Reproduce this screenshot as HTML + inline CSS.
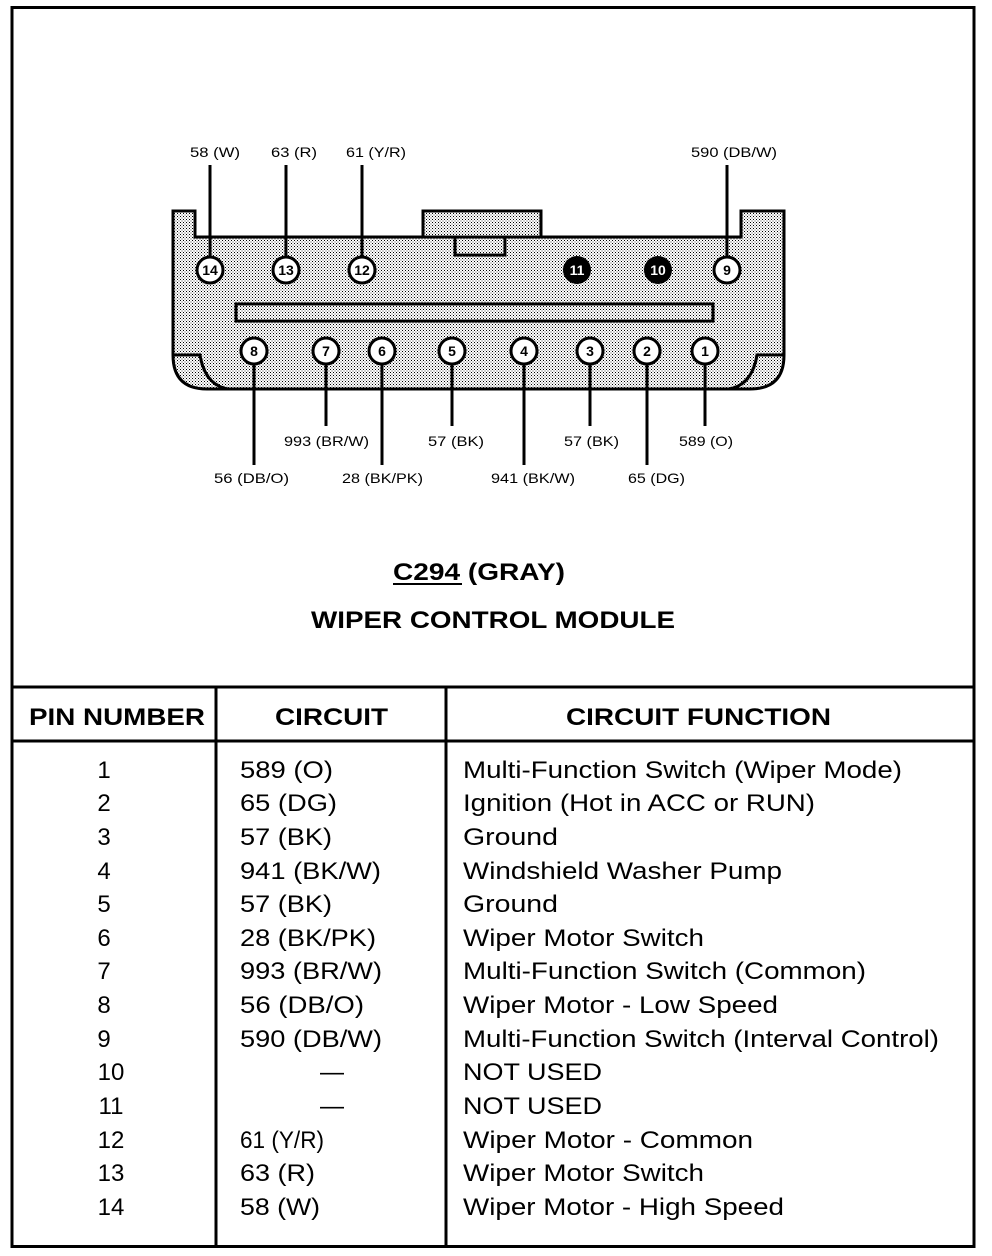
<!DOCTYPE html>
<html><head><meta charset="utf-8"><style>
html,body{margin:0;padding:0;background:#fff;}
svg{display:block;}
text{font-family:"Liberation Sans",Arial,sans-serif;fill:#000;}
</style></head><body>
<svg width="992" height="1256" viewBox="0 0 992 1256" xmlns="http://www.w3.org/2000/svg">
<defs>
<pattern id="dots" width="3" height="3" patternUnits="userSpaceOnUse">
<rect width="3" height="3" fill="#fff"/>
<rect x="0" y="0" width="1" height="1" fill="#000"/>
<rect x="1.5" y="1.5" width="1" height="1" fill="#444"/>
</pattern>
</defs>
<rect x="12" y="7.5" width="962" height="1239" fill="none" stroke="#000" stroke-width="3"/>
<path d="M173,211 L195,211 L195,237 L741,237 L741,211 L784,211 L784,355 Q784,389 750,389 L207,389 Q173,389 173,355 Z" fill="url(#dots)" stroke="#000" stroke-width="3"/>
<path d="M173,355 L200,355 Q205,385 228,389" fill="none" stroke="#000" stroke-width="3"/>
<path d="M784,355 L757,355 Q752,385 729,389" fill="none" stroke="#000" stroke-width="3"/>
<rect x="423" y="211" width="118" height="26" fill="url(#dots)" stroke="#000" stroke-width="3"/>
<rect x="455" y="237" width="50" height="18" fill="url(#dots)" stroke="#000" stroke-width="3"/>
<rect x="236" y="304" width="477" height="17" fill="url(#dots)" stroke="#000" stroke-width="3"/>
<g stroke="#000" stroke-width="3">
<line x1="210" y1="165" x2="210" y2="257"/>
<line x1="286" y1="165" x2="286" y2="257"/>
<line x1="362" y1="165" x2="362" y2="257"/>
<line x1="727" y1="165" x2="727" y2="257"/>
<line x1="254" y1="364" x2="254" y2="465"/>
<line x1="326" y1="364" x2="326" y2="426"/>
<line x1="382" y1="364" x2="382" y2="465"/>
<line x1="452" y1="364" x2="452" y2="426"/>
<line x1="524" y1="364" x2="524" y2="465"/>
<line x1="590" y1="364" x2="590" y2="426"/>
<line x1="647" y1="364" x2="647" y2="465"/>
<line x1="705" y1="364" x2="705" y2="426"/>
</g>
<g stroke="#000" stroke-width="3" fill="#fff">
<circle cx="210" cy="270" r="13"/><circle cx="286" cy="270" r="13"/><circle cx="362" cy="270" r="13"/>
<circle cx="727" cy="270" r="13"/>
<circle cx="254" cy="351" r="13"/><circle cx="326" cy="351" r="13"/><circle cx="382" cy="351" r="13"/>
<circle cx="452" cy="351" r="13"/><circle cx="524" cy="351" r="13"/><circle cx="590" cy="351" r="13"/>
<circle cx="647" cy="351" r="13"/><circle cx="705" cy="351" r="13"/>
</g>
<circle cx="577" cy="270" r="14" fill="#000"/><circle cx="658" cy="270" r="14" fill="#000"/>
<g font-size="14" font-weight="bold" text-anchor="middle">
<text x="210" y="275">14</text><text x="286" y="275">13</text><text x="362" y="275">12</text>
<text x="577" y="275" style="fill:#fff">11</text><text x="658" y="275" style="fill:#fff">10</text>
<text x="727" y="275">9</text>
<text x="254" y="356">8</text><text x="326" y="356">7</text><text x="382" y="356">6</text><text x="452" y="356">5</text>
<text x="524" y="356">4</text><text x="590" y="356">3</text><text x="647" y="356">2</text><text x="705" y="356">1</text>
</g>
<g font-size="14" lengthAdjust="spacingAndGlyphs">
<text x="190" y="157" textLength="50" lengthAdjust="spacingAndGlyphs">58 (W)</text>
<text x="271" y="157" textLength="46" lengthAdjust="spacingAndGlyphs">63 (R)</text>
<text x="346" y="157" textLength="60" lengthAdjust="spacingAndGlyphs">61 (Y/R)</text>
<text x="691" y="157" textLength="86" lengthAdjust="spacingAndGlyphs">590 (DB/W)</text>
<text x="284" y="446" textLength="85" lengthAdjust="spacingAndGlyphs">993 (BR/W)</text>
<text x="428" y="446" textLength="56" lengthAdjust="spacingAndGlyphs">57 (BK)</text>
<text x="564" y="446" textLength="55" lengthAdjust="spacingAndGlyphs">57 (BK)</text>
<text x="679" y="446" textLength="54" lengthAdjust="spacingAndGlyphs">589 (O)</text>
<text x="214" y="483" textLength="75" lengthAdjust="spacingAndGlyphs">56 (DB/O)</text>
<text x="342" y="483" textLength="81" lengthAdjust="spacingAndGlyphs">28 (BK/PK)</text>
<text x="491" y="483" textLength="84" lengthAdjust="spacingAndGlyphs">941 (BK/W)</text>
<text x="628" y="483" textLength="57" lengthAdjust="spacingAndGlyphs">65 (DG)</text>
</g>
<g font-size="24" font-weight="bold">
<text x="393" y="580" textLength="172" lengthAdjust="spacingAndGlyphs">C294 (GRAY)</text>
<text x="311" y="628" textLength="364" lengthAdjust="spacingAndGlyphs">WIPER CONTROL MODULE</text>
<text x="29" y="725" textLength="176" lengthAdjust="spacingAndGlyphs">PIN NUMBER</text>
<text x="275" y="725" textLength="113" lengthAdjust="spacingAndGlyphs">CIRCUIT</text>
<text x="566" y="725" textLength="265" lengthAdjust="spacingAndGlyphs">CIRCUIT FUNCTION</text>
</g>
<line x1="393" y1="584" x2="462" y2="584" stroke="#000" stroke-width="2"/>
<g stroke="#000" stroke-width="3">
<line x1="12" y1="687" x2="974" y2="687"/>
<line x1="12" y1="741" x2="974" y2="741"/>
<line x1="216" y1="687" x2="216" y2="1246"/>
<line x1="446" y1="687" x2="446" y2="1246"/>
</g>
<g font-size="24">
<g text-anchor="middle">
<text x="104" y="778">1</text><text x="104" y="811">2</text><text x="104" y="845">3</text><text x="104" y="879">4</text>
<text x="104" y="912">5</text><text x="104" y="946">6</text><text x="104" y="979">7</text><text x="104" y="1013">8</text>
<text x="104" y="1047">9</text><text x="111" y="1080">10</text><text x="111" y="1114">11</text><text x="111" y="1148">12</text>
<text x="111" y="1181">13</text><text x="111" y="1215">14</text>
</g>
<text x="240" y="778" textLength="93" lengthAdjust="spacingAndGlyphs">589 (O)</text>
<text x="240" y="811" textLength="97" lengthAdjust="spacingAndGlyphs">65 (DG)</text>
<text x="240" y="845" textLength="92" lengthAdjust="spacingAndGlyphs">57 (BK)</text>
<text x="240" y="879" textLength="141" lengthAdjust="spacingAndGlyphs">941 (BK/W)</text>
<text x="240" y="912" textLength="92" lengthAdjust="spacingAndGlyphs">57 (BK)</text>
<text x="240" y="946" textLength="136" lengthAdjust="spacingAndGlyphs">28 (BK/PK)</text>
<text x="240" y="979" textLength="142" lengthAdjust="spacingAndGlyphs">993 (BR/W)</text>
<text x="240" y="1013" textLength="124" lengthAdjust="spacingAndGlyphs">56 (DB/O)</text>
<text x="240" y="1047" textLength="142" lengthAdjust="spacingAndGlyphs">590 (DB/W)</text>
<text x="320" y="1080">—</text><text x="320" y="1114">—</text>
<text x="240" y="1148" textLength="84" lengthAdjust="spacingAndGlyphs">61 (Y/R)</text>
<text x="240" y="1181" textLength="75" lengthAdjust="spacingAndGlyphs">63 (R)</text>
<text x="240" y="1215" textLength="80" lengthAdjust="spacingAndGlyphs">58 (W)</text>
<text x="463" y="778" textLength="439" lengthAdjust="spacingAndGlyphs">Multi-Function Switch (Wiper Mode)</text>
<text x="463" y="811" textLength="352" lengthAdjust="spacingAndGlyphs">Ignition (Hot in ACC or RUN)</text>
<text x="463" y="845" textLength="95" lengthAdjust="spacingAndGlyphs">Ground</text>
<text x="463" y="879" textLength="319" lengthAdjust="spacingAndGlyphs">Windshield Washer Pump</text>
<text x="463" y="912" textLength="95" lengthAdjust="spacingAndGlyphs">Ground</text>
<text x="463" y="946" textLength="241" lengthAdjust="spacingAndGlyphs">Wiper Motor Switch</text>
<text x="463" y="979" textLength="403" lengthAdjust="spacingAndGlyphs">Multi-Function Switch (Common)</text>
<text x="463" y="1013" textLength="315" lengthAdjust="spacingAndGlyphs">Wiper Motor - Low Speed</text>
<text x="463" y="1047" textLength="476" lengthAdjust="spacingAndGlyphs">Multi-Function Switch (Interval Control)</text>
<text x="463" y="1080" textLength="139" lengthAdjust="spacingAndGlyphs">NOT USED</text>
<text x="463" y="1114" textLength="139" lengthAdjust="spacingAndGlyphs">NOT USED</text>
<text x="463" y="1148" textLength="290" lengthAdjust="spacingAndGlyphs">Wiper Motor - Common</text>
<text x="463" y="1181" textLength="241" lengthAdjust="spacingAndGlyphs">Wiper Motor Switch</text>
<text x="463" y="1215" textLength="321" lengthAdjust="spacingAndGlyphs">Wiper Motor - High Speed</text>
</g>
</svg>
</body></html>
